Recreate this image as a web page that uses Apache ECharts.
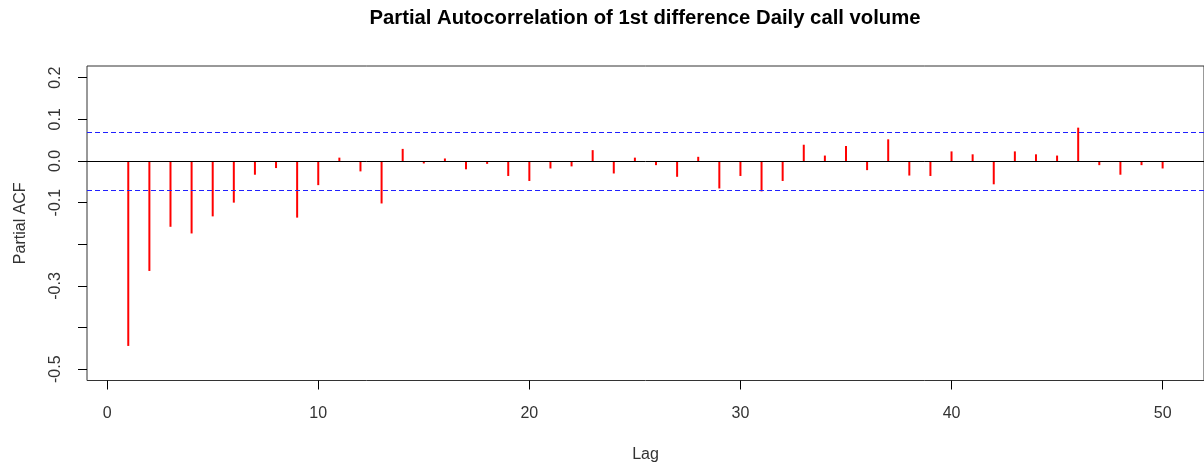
<!DOCTYPE html>
<html>
<head>
<meta charset="utf-8">
<script src="https://cdn.jsdelivr.net/npm/echarts@6/dist/echarts.min.js"></script>
<style>
  html, body { margin: 0; padding: 0; background: #ffffff; }
  #chart { width: 1204px; height: 468px; }
</style>
</head>
<body>
<div id="chart"></div>
<script>
const titleText = 'Partial Autocorrelation of 1st difference Daily call volume';
const lags = [1,2,3,4,5,6,7,8,9,10,11,12,13,14,15,16,17,18,19,20,21,22,23,24,25,26,27,28,29,30,31,32,33,34,35,36,37,38,39,40,41,42,43,44,45,46,47,48,49,50];
const pacf = [-0.444,-0.264,-0.158,-0.174,-0.133,-0.100,-0.033,-0.017,-0.136,-0.058,
              0.008,-0.025,-0.102,0.029,-0.006,0.006,-0.020,-0.007,-0.036,-0.048,
              -0.018,-0.013,0.026,-0.030,0.008,-0.010,-0.038,0.010,-0.066,-0.036,
              -0.073,-0.048,0.039,0.013,0.036,-0.022,0.052,-0.035,-0.036,0.023,
              0.016,-0.056,0.023,0.016,0.013,0.080,-0.010,-0.033,-0.010,-0.018];
const ciBound = 0.0718;
const xTicks = [0,10,20,30,40,50];
const yTicks = [-0.5,-0.4,-0.3,-0.2,-0.1,0.0,0.1,0.2];
const yLabels = [-0.5,-0.3,-0.1,0.0,0.1,0.2];

const font = 'Liberation Sans, Arial, sans-serif';
const chart = echarts.init(document.getElementById('chart'), null, {renderer: 'canvas'});
chart.setOption({
  animation: false,
  backgroundColor: '#ffffff',
  title: {
    text: titleText,
    left: 645, top: 8, padding: 0, textAlign: 'center',
    textStyle: {fontFamily: font, fontSize: 20.3, fontWeight: 'bold', color: '#000'}
  },
  grid: {left: 87, top: 66, width: 1118, height: 314.5, show: true, borderColor: '#333', borderWidth: 1, backgroundColor: 'transparent'},
  xAxis: {
    type: 'value', min: -0.955, max: 51.96,
    name: 'Lag', nameLocation: 'middle', nameGap: 66,
    nameTextStyle: {fontFamily: font, fontSize: 16, color: '#333'},
    axisLine: {show: false, onZero: false},
    splitLine: {show: false},
    axisTick: {show: true, inside: false, length: 9, customValues: xTicks, lineStyle: {color: '#000'}},
    axisLabel: {customValues: xTicks, margin: 25, fontFamily: font, fontSize: 16, color: '#333'}
  },
  yAxis: {
    type: 'value', min: -0.527, max: 0.228,
    name: 'Partial ACF', nameLocation: 'middle', nameGap: 58, nameRotate: 90,
    nameTextStyle: {fontFamily: font, fontSize: 16, color: '#333'},
    axisLine: {show: false, onZero: false},
    splitLine: {show: false},
    axisTick: {show: true, inside: false, length: 9, customValues: yTicks, lineStyle: {color: '#000'}},
    axisLabel: {customValues: yLabels, rotate: 90, margin: 23, fontFamily: font, fontSize: 16, color: '#333',
      formatter: v => v.toFixed(1)}
  },
  series: [{
    type: 'bar',
    barWidth: 2,
    itemStyle: {color: '#ff0000'},
    data: lags.map((l, i) => [l, pacf[i]]),
    markLine: {
      silent: true, symbol: 'none', label: {show: false},
      data: [
        {yAxis: 0, lineStyle: {color: '#000', width: 1, type: 'solid'}},
        {yAxis: ciBound, lineStyle: {color: '#2020ff', width: 1, type: [5, 3]}},
        {yAxis: -ciBound, lineStyle: {color: '#2020ff', width: 1, type: [5, 3]}}
      ]
    }
  }]
});
</script>
</body>
</html>
